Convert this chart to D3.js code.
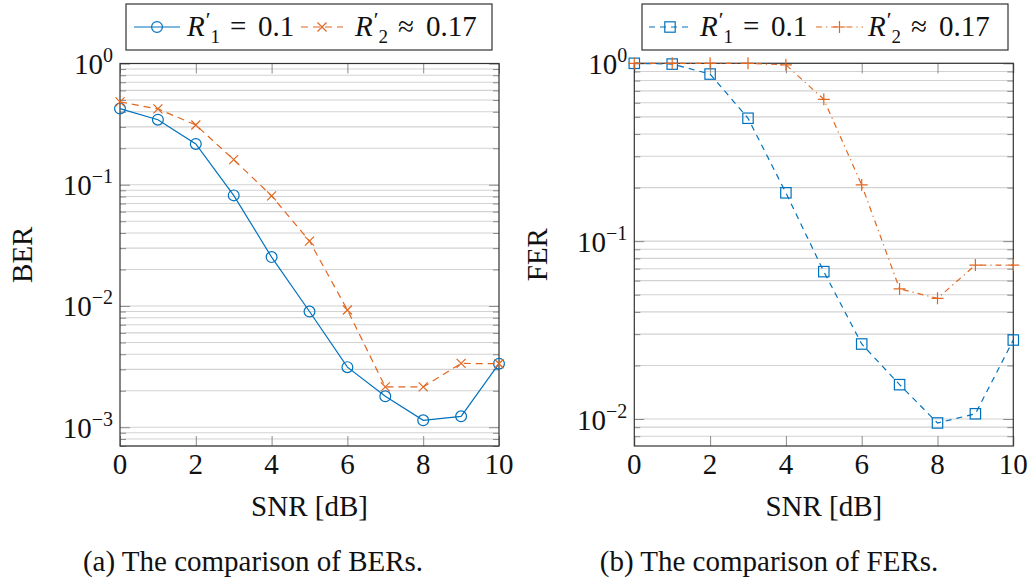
<!DOCTYPE html>
<html>
<head>
<meta charset="utf-8">
<script src="https://cdn.jsdelivr.net/npm/d3@7"></script>
<style>
  html, body { margin: 0; padding: 0; background: #fff; }
</style>
</head>
<body>
<svg id="fig" width="1031" height="585" font-family="'Liberation Serif', 'Times New Roman', Times, 'DejaVu Serif', serif"></svg>
<script>
// SNR sweep points (dB)
const snr = [0, 1, 2, 3, 4, 5, 6, 7, 8, 9, 10];

// Bit error rates
const berR1 = [0.425, 0.344, 0.217, 0.0817, 0.0253, 0.0090, 0.00313, 0.00180, 0.00114, 0.00123, 0.00334];
const berR2 = [0.482, 0.422, 0.311, 0.161, 0.081, 0.0343, 0.00927, 0.00215, 0.00215, 0.00336, 0.00334];

// Frame error rates
const ferR1 = [1.0, 0.99, 0.87, 0.491, 0.187, 0.0674, 0.0264, 0.0156, 0.0095, 0.0107, 0.0278];
const ferR2 = [1.0, 1.0, 1.0, 1.0, 0.98, 0.627, 0.207, 0.0539, 0.0477, 0.0734, 0.0734];

// Axis ticks
const xTicks = [0, 2, 4, 6, 8, 10];
const berDecades = [-3, -2, -1, 0];
const ferDecades = [-2, -1, 0];

const BLUE = "#0072bd";
const ORANGE = "#e2661f";
const FS = 29;
const SERIF = "'Liberation Serif', 'Times New Roman', Times, 'DejaVu Serif', serif";

const svg = d3.select("#fig");

function drawMarker(g, type, color) {
  if (type === "circle") {
    g.append("circle").attr("r", 5.4).attr("fill", "none").attr("stroke", color).attr("stroke-width", 1.2);
  } else if (type === "square") {
    g.append("rect").attr("x", -5.2).attr("y", -5.2).attr("width", 10.4).attr("height", 10.4)
      .attr("fill", "none").attr("stroke", color).attr("stroke-width", 1.2);
  } else if (type === "cross") {
    g.append("path").attr("d", "M-4.5,-4.5L4.5,4.5M-4.5,4.5L4.5,-4.5").attr("stroke", color).attr("stroke-width", 1.2);
  } else if (type === "plus") {
    g.append("path").attr("d", "M-6,0L6,0M0,-6L0,6").attr("stroke", color).attr("stroke-width", 1.2);
  }
}

function txt(g) {
  return g.append("text").attr("font-family", SERIF).attr("fill", "#111");
}

// Math-style label R'_k rel value, set as one text run
function mathLabel(g, x, baseline, sub, rel, value) {
  const t = txt(g).attr("x", x).attr("y", baseline).attr("font-size", FS);
  t.append("tspan").attr("font-style", "italic").text("R");
  t.append("tspan").attr("dx", 1).attr("dy", -9).attr("font-size", 22).text("′");
  t.append("tspan").attr("dx", 0).attr("dy", 16).attr("font-size", 19).text(sub);
  t.append("tspan").attr("x", x + 43).attr("dy", -7).text(rel);
  t.append("tspan").attr("x", x + 71).text(value);
}

function panel(cfg) {
  const g = svg.append("g");
  const x = d3.scaleLinear().domain([0, 10]).range([cfg.left, cfg.right]);
  const y = d3.scaleLog().domain(cfg.yDomain).range([cfg.bottom, cfg.top]);

  // horizontal grid at every decade and sub-decade step
  const gridVals = [];
  const minorVals = [];
  const d0 = Math.floor(Math.log10(cfg.yDomain[0]));
  for (let d = d0; d <= 0; d++) {
    for (let k = 1; k <= 9; k++) {
      const v = k * Math.pow(10, d);
      if (v >= cfg.yDomain[0] * 0.999 && v <= cfg.yDomain[1] * 1.001) {
        gridVals.push(v);
        if (k !== 1) minorVals.push(v);
      }
    }
  }
  const majorVals = cfg.decades.map(d => Math.pow(10, d));

  g.append("g").selectAll("line").data(gridVals).join("line")
    .attr("x1", cfg.left).attr("x2", cfg.right)
    .attr("y1", d => y(d)).attr("y2", d => y(d))
    .attr("stroke", "#d2d2d2").attr("stroke-width", 1.1);

  // ticks drawn inward on every side via d3 axes
  const tickStyle = sel => {
    sel.select(".domain").remove();
    sel.selectAll("text").remove();
    sel.selectAll("line").attr("stroke", "#8a8a8a").attr("stroke-width", 1);
  };
  g.append("g").attr("transform", `translate(${cfg.left},0)`)
    .call(d3.axisRight(y).tickValues(majorVals).tickSize(10)).call(tickStyle);
  g.append("g").attr("transform", `translate(${cfg.left},0)`)
    .call(d3.axisRight(y).tickValues(minorVals).tickSize(6)).call(tickStyle);
  g.append("g").attr("transform", `translate(${cfg.right},0)`)
    .call(d3.axisLeft(y).tickValues(majorVals).tickSize(10)).call(tickStyle);
  g.append("g").attr("transform", `translate(${cfg.right},0)`)
    .call(d3.axisLeft(y).tickValues(minorVals).tickSize(6)).call(tickStyle);
  g.append("g").attr("transform", `translate(0,${cfg.bottom})`)
    .call(d3.axisTop(x).tickValues(xTicks).tickSize(10)).call(tickStyle);
  g.append("g").attr("transform", `translate(0,${cfg.top})`)
    .call(d3.axisBottom(x).tickValues(xTicks).tickSize(10)).call(tickStyle);

  // x tick labels
  g.append("g").selectAll("text").data(xTicks).join("text")
    .attr("font-family", SERIF).attr("fill", "#111")
    .attr("x", d => x(d)).attr("y", cfg.bottom + 28)
    .attr("text-anchor", "middle").attr("font-size", FS)
    .text(d => d);

  // y tick labels 10^k
  const yl = g.append("g").selectAll("text").data(cfg.decades).join("text")
    .attr("font-family", SERIF).attr("fill", "#111")
    .attr("x", cfg.left - 7).attr("y", d => y(Math.pow(10, d)) + 10.5)
    .attr("text-anchor", "end").attr("font-size", FS);
  yl.append("tspan").text("10");
  yl.append("tspan").attr("font-size", 20).attr("dy", -12).text(d => d < 0 ? "−" + (-d) : String(d));

  // frame
  g.append("rect").attr("x", cfg.left).attr("y", cfg.top)
    .attr("width", cfg.right - cfg.left).attr("height", cfg.bottom - cfg.top)
    .attr("fill", "none").attr("stroke", "#333").attr("stroke-width", 1.2);

  // series
  const line = d3.line().x((d, i) => x(snr[i])).y(d => y(d));
  cfg.series.forEach(s => {
    g.append("path").datum(s.values).attr("d", line)
      .attr("fill", "none").attr("stroke", s.color).attr("stroke-width", 1.2)
      .attr("stroke-dasharray", s.dash || null);
    s.values.forEach((v, i) => {
      const m = g.append("g").attr("transform", `translate(${x(snr[i])},${y(v)})`);
      drawMarker(m, s.marker, s.color);
    });
  });

  // axis titles
  const cy = (cfg.top + cfg.bottom) / 2;
  txt(g).attr("transform", `translate(${cfg.yTitleX},${cy}) rotate(-90)`)
    .attr("text-anchor", "middle").attr("font-size", FS).text(cfg.yTitle);
  txt(g).attr("x", (cfg.left + cfg.right) / 2).attr("y", cfg.bottom + 70)
    .attr("text-anchor", "middle").attr("font-size", FS).text("SNR [dB]");

  // caption
  txt(g).attr("x", cfg.captionX).attr("y", 571)
    .attr("text-anchor", "middle").attr("font-size", FS).text(cfg.caption);

  // legend
  const lg = g.append("g");
  lg.append("rect").attr("x", cfg.legend.x0).attr("y", 4)
    .attr("width", cfg.legend.x1 - cfg.legend.x0).attr("height", 46)
    .attr("fill", "#fff").attr("stroke", "#333").attr("stroke-width", 1.2);
  cfg.series.forEach((s, i) => {
    const e = cfg.legend.entries[i];
    lg.append("line").attr("x1", e.l0).attr("x2", e.l1).attr("y1", 27).attr("y2", 27)
      .attr("stroke", s.color).attr("stroke-width", 1.2).attr("stroke-dasharray", s.dash || null);
    const m = lg.append("g").attr("transform", `translate(${(e.l0 + e.l1) / 2},27)`);
    drawMarker(m, s.marker, s.color);
    mathLabel(lg, e.tx, 36, e.sub, e.rel, e.val);
  });
}

panel({
  left: 120, right: 499, top: 63.5, bottom: 446,
  yDomain: [7e-4, 1], decades: berDecades,
  yTitle: "BER", yTitleX: 32,
  caption: "(a) The comparison of BERs.", captionX: 253,
  series: [
    { values: berR1, color: BLUE, marker: "circle" },
    { values: berR2, color: ORANGE, marker: "cross", dash: "7,5" }
  ],
  legend: {
    x0: 126, x1: 492,
    entries: [
      { l0: 134, l1: 180, tx: 187, sub: "1", rel: "=", val: "0.1" },
      { l0: 301, l1: 343, tx: 355, sub: "2", rel: "≈", val: "0.17" }
    ]
  }
});

panel({
  left: 634.3, right: 1013.3, top: 63.3, bottom: 446,
  yDomain: [7.05e-3, 1], decades: ferDecades,
  yTitle: "FER", yTitleX: 547,
  caption: "(b) The comparison of FERs.", captionX: 769,
  series: [
    { values: ferR1, color: BLUE, marker: "square", dash: "6,5" },
    { values: ferR2, color: ORANGE, marker: "plus", dash: "6,4,1.2,4" }
  ],
  legend: {
    x0: 642, x1: 1008,
    entries: [
      { l0: 649, l1: 691, tx: 700, sub: "1", rel: "=", val: "0.1" },
      { l0: 816, l1: 863, tx: 868, sub: "2", rel: "≈", val: "0.17" }
    ]
  }
});
</script>
</body>
</html>
